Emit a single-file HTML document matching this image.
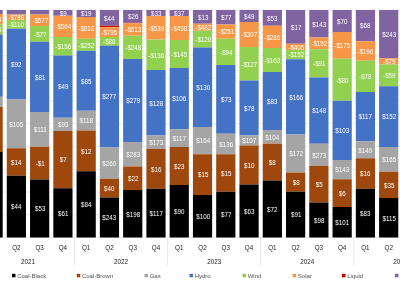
<!DOCTYPE html>
<html><head><meta charset="utf-8"><style>
html,body{margin:0;padding:0;background:#fff;}
body{width:400px;height:283px;position:relative;overflow:hidden;font-family:"Liberation Sans",sans-serif;}
svg{position:absolute;left:0;top:0;}
.ov{position:absolute;left:0;top:0;width:400px;height:283px;will-change:transform;}
.s{position:absolute;overflow:hidden;}
.t{position:absolute;left:-10px;right:-10px;text-align:center;color:#fff;font-size:6.7px;line-height:10px;height:10px;top:50%;margin-top:-4.2px;white-space:nowrap;transform:scaleX(0.93);}
.q{position:absolute;width:40px;text-align:center;color:#252423;font-size:6.3px;line-height:8px;}
.lg{position:absolute;top:271.5px;height:8px;color:#505050;font-size:6px;line-height:8px;white-space:nowrap;}
</style></head><body>

<svg width="400" height="283" viewBox="0 0 400 283">
<rect x="0" y="9.50" width="400" height="1.00" fill="#E9EDF5"/>
<rect x="0" y="32.25" width="400" height="1.00" fill="#E9EDF5"/>
<rect x="0" y="55.00" width="400" height="1.00" fill="#E9EDF5"/>
<rect x="0" y="77.75" width="400" height="1.00" fill="#E9EDF5"/>
<rect x="0" y="100.50" width="400" height="1.00" fill="#E9EDF5"/>
<rect x="0" y="123.25" width="400" height="1.00" fill="#E9EDF5"/>
<rect x="0" y="146.00" width="400" height="1.00" fill="#E9EDF5"/>
<rect x="0" y="168.75" width="400" height="1.00" fill="#E9EDF5"/>
<rect x="0" y="191.50" width="400" height="1.00" fill="#E9EDF5"/>
<rect x="0" y="214.25" width="400" height="1.00" fill="#E9EDF5"/>
<rect x="0" y="237.00" width="400" height="1.00" fill="#E9EDF5"/>
<rect x="74.05" y="237.50" width="1.00" height="28.00" fill="#E3E8F2"/>
<rect x="167.12" y="237.50" width="1.00" height="28.00" fill="#E3E8F2"/>
<rect x="260.20" y="237.50" width="1.00" height="28.00" fill="#E3E8F2"/>
<rect x="353.28" y="237.50" width="1.00" height="28.00" fill="#E3E8F2"/>
<rect x="-16.50" y="10.00" width="19.20" height="4.00" fill="#8064A2"/>
<rect x="-16.50" y="14.00" width="19.20" height="10.25" fill="#F79646"/>
<rect x="-16.50" y="24.25" width="19.20" height="10.25" fill="#92D050"/>
<rect x="-16.50" y="34.50" width="19.20" height="62.25" fill="#4472C4"/>
<rect x="-16.50" y="96.75" width="19.20" height="10.25" fill="#A5A5A5"/>
<rect x="-16.50" y="107.00" width="19.20" height="45.00" fill="#9E480E"/>
<rect x="-16.50" y="152.00" width="19.20" height="85.50" fill="#000000"/>
<rect x="6.77" y="10.00" width="19.20" height="4.50" fill="#8064A2"/>
<rect x="6.77" y="14.50" width="19.20" height="5.50" fill="#F79646"/>
<rect x="6.77" y="20.00" width="19.20" height="8.75" fill="#92D050"/>
<rect x="6.77" y="28.75" width="19.20" height="70.75" fill="#4472C4"/>
<rect x="6.77" y="99.50" width="19.20" height="48.75" fill="#A5A5A5"/>
<rect x="6.77" y="148.25" width="19.20" height="27.50" fill="#9E480E"/>
<rect x="6.77" y="175.75" width="19.20" height="61.75" fill="#000000"/>
<rect x="30.04" y="10.00" width="19.20" height="4.50" fill="#8064A2"/>
<rect x="30.04" y="14.50" width="19.20" height="11.50" fill="#F79646"/>
<rect x="30.04" y="26.00" width="19.20" height="15.75" fill="#92D050"/>
<rect x="30.04" y="41.75" width="19.20" height="70.25" fill="#4472C4"/>
<rect x="30.04" y="112.00" width="19.20" height="34.75" fill="#A5A5A5"/>
<rect x="30.04" y="146.75" width="19.20" height="32.75" fill="#9E480E"/>
<rect x="30.04" y="179.50" width="19.20" height="58.00" fill="#000000"/>
<rect x="53.31" y="10.00" width="19.20" height="5.75" fill="#8064A2"/>
<rect x="53.31" y="15.75" width="19.20" height="21.25" fill="#F79646"/>
<rect x="53.31" y="37.00" width="19.20" height="18.50" fill="#92D050"/>
<rect x="53.31" y="55.50" width="19.20" height="62.25" fill="#4472C4"/>
<rect x="53.31" y="117.75" width="19.20" height="13.25" fill="#A5A5A5"/>
<rect x="53.31" y="131.00" width="19.20" height="57.25" fill="#9E480E"/>
<rect x="53.31" y="188.25" width="19.20" height="49.25" fill="#000000"/>
<rect x="76.58" y="10.00" width="19.20" height="7.00" fill="#8064A2"/>
<rect x="76.58" y="17.00" width="19.20" height="21.75" fill="#F79646"/>
<rect x="76.58" y="38.75" width="19.20" height="12.00" fill="#92D050"/>
<rect x="76.58" y="50.75" width="19.20" height="60.00" fill="#4472C4"/>
<rect x="76.58" y="110.75" width="19.20" height="19.75" fill="#A5A5A5"/>
<rect x="76.58" y="130.50" width="19.20" height="40.75" fill="#9E480E"/>
<rect x="76.58" y="171.25" width="19.20" height="66.25" fill="#000000"/>
<rect x="99.85" y="10.00" width="19.20" height="15.75" fill="#8064A2"/>
<rect x="99.85" y="25.75" width="19.20" height="1.50" fill="#C00000"/>
<rect x="99.85" y="27.25" width="19.20" height="9.75" fill="#F79646"/>
<rect x="99.85" y="37.00" width="19.20" height="8.75" fill="#92D050"/>
<rect x="99.85" y="45.75" width="19.20" height="101.75" fill="#4472C4"/>
<rect x="99.85" y="147.50" width="19.20" height="31.25" fill="#A5A5A5"/>
<rect x="99.85" y="178.75" width="19.20" height="18.75" fill="#9E480E"/>
<rect x="99.85" y="197.50" width="19.20" height="40.00" fill="#000000"/>
<rect x="123.12" y="10.00" width="19.20" height="12.75" fill="#8064A2"/>
<rect x="123.12" y="22.75" width="19.20" height="0.50" fill="#C00000"/>
<rect x="123.12" y="23.25" width="19.20" height="12.50" fill="#F79646"/>
<rect x="123.12" y="35.75" width="19.20" height="23.25" fill="#92D050"/>
<rect x="123.12" y="59.00" width="19.20" height="83.00" fill="#4472C4"/>
<rect x="123.12" y="142.00" width="19.20" height="24.50" fill="#A5A5A5"/>
<rect x="123.12" y="166.50" width="19.20" height="23.50" fill="#9E480E"/>
<rect x="123.12" y="190.00" width="19.20" height="47.50" fill="#000000"/>
<rect x="146.39" y="10.00" width="19.20" height="6.00" fill="#8064A2"/>
<rect x="146.39" y="16.00" width="19.20" height="23.50" fill="#F79646"/>
<rect x="146.39" y="39.50" width="19.20" height="30.50" fill="#92D050"/>
<rect x="146.39" y="70.00" width="19.20" height="65.50" fill="#4472C4"/>
<rect x="146.39" y="135.50" width="19.20" height="13.25" fill="#A5A5A5"/>
<rect x="146.39" y="148.75" width="19.20" height="40.00" fill="#9E480E"/>
<rect x="146.39" y="188.75" width="19.20" height="48.75" fill="#000000"/>
<rect x="169.66" y="10.00" width="19.20" height="6.00" fill="#8064A2"/>
<rect x="169.66" y="16.00" width="19.20" height="24.00" fill="#F79646"/>
<rect x="169.66" y="40.00" width="19.20" height="28.00" fill="#92D050"/>
<rect x="169.66" y="68.00" width="19.20" height="61.25" fill="#4472C4"/>
<rect x="169.66" y="129.25" width="19.20" height="17.75" fill="#A5A5A5"/>
<rect x="169.66" y="147.00" width="19.20" height="38.00" fill="#9E480E"/>
<rect x="169.66" y="185.00" width="19.20" height="52.50" fill="#000000"/>
<rect x="192.93" y="10.00" width="19.20" height="13.75" fill="#8064A2"/>
<rect x="192.93" y="23.75" width="19.20" height="7.00" fill="#F79646"/>
<rect x="192.93" y="30.75" width="19.20" height="16.75" fill="#92D050"/>
<rect x="192.93" y="47.50" width="19.20" height="79.50" fill="#4472C4"/>
<rect x="192.93" y="127.00" width="19.20" height="27.25" fill="#A5A5A5"/>
<rect x="192.93" y="154.25" width="19.20" height="40.75" fill="#9E480E"/>
<rect x="192.93" y="195.00" width="19.20" height="42.50" fill="#000000"/>
<rect x="216.20" y="10.00" width="19.20" height="14.50" fill="#8064A2"/>
<rect x="216.20" y="24.50" width="19.20" height="14.25" fill="#F79646"/>
<rect x="216.20" y="38.75" width="19.20" height="26.25" fill="#92D050"/>
<rect x="216.20" y="65.00" width="19.20" height="68.75" fill="#4472C4"/>
<rect x="216.20" y="133.75" width="19.20" height="20.50" fill="#A5A5A5"/>
<rect x="216.20" y="154.25" width="19.20" height="37.50" fill="#9E480E"/>
<rect x="216.20" y="191.75" width="19.20" height="45.75" fill="#000000"/>
<rect x="239.47" y="10.00" width="19.20" height="12.00" fill="#8064A2"/>
<rect x="239.47" y="22.00" width="19.20" height="25.00" fill="#F79646"/>
<rect x="239.47" y="47.00" width="19.20" height="33.50" fill="#92D050"/>
<rect x="239.47" y="80.50" width="19.20" height="55.00" fill="#4472C4"/>
<rect x="239.47" y="135.50" width="19.20" height="10.00" fill="#A5A5A5"/>
<rect x="239.47" y="145.50" width="19.20" height="39.00" fill="#9E480E"/>
<rect x="239.47" y="184.50" width="19.20" height="53.00" fill="#000000"/>
<rect x="262.74" y="10.00" width="19.20" height="15.75" fill="#8064A2"/>
<rect x="262.74" y="25.75" width="19.20" height="22.25" fill="#F79646"/>
<rect x="262.74" y="48.00" width="19.20" height="24.00" fill="#92D050"/>
<rect x="262.74" y="72.00" width="19.20" height="58.00" fill="#4472C4"/>
<rect x="262.74" y="130.00" width="19.20" height="13.75" fill="#A5A5A5"/>
<rect x="262.74" y="143.75" width="19.20" height="36.75" fill="#9E480E"/>
<rect x="262.74" y="180.50" width="19.20" height="57.00" fill="#000000"/>
<rect x="286.01" y="10.00" width="19.20" height="33.75" fill="#8064A2"/>
<rect x="286.01" y="43.75" width="19.20" height="6.25" fill="#F79646"/>
<rect x="286.01" y="50.00" width="19.20" height="9.25" fill="#92D050"/>
<rect x="286.01" y="59.25" width="19.20" height="75.25" fill="#4472C4"/>
<rect x="286.01" y="134.50" width="19.20" height="38.00" fill="#A5A5A5"/>
<rect x="286.01" y="172.50" width="19.20" height="19.25" fill="#9E480E"/>
<rect x="286.01" y="191.75" width="19.20" height="45.75" fill="#000000"/>
<rect x="309.28" y="10.00" width="19.20" height="27.50" fill="#8064A2"/>
<rect x="309.28" y="37.50" width="19.20" height="11.75" fill="#F79646"/>
<rect x="309.28" y="49.25" width="19.20" height="28.25" fill="#92D050"/>
<rect x="309.28" y="77.50" width="19.20" height="66.25" fill="#4472C4"/>
<rect x="309.28" y="143.75" width="19.20" height="22.00" fill="#A5A5A5"/>
<rect x="309.28" y="165.75" width="19.20" height="36.75" fill="#9E480E"/>
<rect x="309.28" y="202.50" width="19.20" height="35.00" fill="#000000"/>
<rect x="332.55" y="10.00" width="19.20" height="22.00" fill="#8064A2"/>
<rect x="332.55" y="32.00" width="19.20" height="26.75" fill="#F79646"/>
<rect x="332.55" y="58.75" width="19.20" height="42.00" fill="#92D050"/>
<rect x="332.55" y="100.75" width="19.20" height="59.25" fill="#4472C4"/>
<rect x="332.55" y="160.00" width="19.20" height="19.25" fill="#A5A5A5"/>
<rect x="332.55" y="179.25" width="19.20" height="27.75" fill="#9E480E"/>
<rect x="332.55" y="207.00" width="19.20" height="30.50" fill="#000000"/>
<rect x="355.82" y="10.00" width="19.20" height="31.25" fill="#8064A2"/>
<rect x="355.82" y="41.25" width="19.20" height="19.50" fill="#F79646"/>
<rect x="355.82" y="60.75" width="19.20" height="31.25" fill="#92D050"/>
<rect x="355.82" y="92.00" width="19.20" height="49.25" fill="#4472C4"/>
<rect x="355.82" y="141.25" width="19.20" height="17.00" fill="#A5A5A5"/>
<rect x="355.82" y="158.25" width="19.20" height="30.50" fill="#9E480E"/>
<rect x="355.82" y="188.75" width="19.20" height="48.75" fill="#000000"/>
<rect x="379.09" y="10.00" width="19.20" height="48.25" fill="#8064A2"/>
<rect x="379.09" y="58.25" width="19.20" height="6.25" fill="#F79646"/>
<rect x="379.09" y="64.50" width="19.20" height="21.75" fill="#92D050"/>
<rect x="379.09" y="86.25" width="19.20" height="60.75" fill="#4472C4"/>
<rect x="379.09" y="147.00" width="19.20" height="24.75" fill="#A5A5A5"/>
<rect x="379.09" y="171.75" width="19.20" height="26.25" fill="#9E480E"/>
<rect x="379.09" y="198.00" width="19.20" height="39.50" fill="#000000"/>
<rect x="12.00" y="273.80" width="3.50" height="3.50" fill="#000000"/>
<rect x="76.75" y="273.80" width="3.50" height="3.50" fill="#9E480E"/>
<rect x="144.50" y="273.80" width="3.50" height="3.50" fill="#A5A5A5"/>
<rect x="189.50" y="273.80" width="3.50" height="3.50" fill="#4472C4"/>
<rect x="242.50" y="273.80" width="3.50" height="3.50" fill="#92D050"/>
<rect x="292.60" y="273.80" width="3.50" height="3.50" fill="#F79646"/>
<rect x="342.00" y="273.80" width="3.50" height="3.50" fill="#C00000"/>
<rect x="395.00" y="273.80" width="3.50" height="3.50" fill="#8064A2"/>
</svg>
<div class="ov">
<div class="s" style="left:-16.50px;top:14.00px;width:19.20px;height:10.25px"><div class="t" style="margin-left:0.60px">-$474</div></div>
<div class="s" style="left:-16.50px;top:24.25px;width:19.20px;height:10.25px"><div class="t" style="margin-left:0.60px">-$124</div></div>
<div class="s" style="left:-16.50px;top:34.50px;width:19.20px;height:62.25px"><div class="t" style="margin-left:0.60px">$72</div></div>
<div class="s" style="left:-16.50px;top:96.75px;width:19.20px;height:10.25px"><div class="t" style="margin-left:0.60px">$43</div></div>
<div class="s" style="left:-16.50px;top:107.00px;width:19.20px;height:45.00px"><div class="t" style="margin-left:0.60px">$14</div></div>
<div class="s" style="left:-16.50px;top:152.00px;width:19.20px;height:85.50px"><div class="t" style="margin-left:0.60px">$34</div></div>
<div class="s" style="left:6.77px;top:14.50px;width:19.20px;height:5.50px"><div class="t" style="margin-left:0.60px">-$788</div></div>
<div class="s" style="left:6.77px;top:20.00px;width:19.20px;height:8.75px"><div class="t" style="margin-left:0.60px">-$110</div></div>
<div class="s" style="left:6.77px;top:28.75px;width:19.20px;height:70.75px"><div class="t" style="margin-left:0.60px">$92</div></div>
<div class="s" style="left:6.77px;top:99.50px;width:19.20px;height:48.75px"><div class="t" style="margin-left:0.60px">$105</div></div>
<div class="s" style="left:6.77px;top:148.25px;width:19.20px;height:27.50px"><div class="t" style="margin-left:0.60px">$14</div></div>
<div class="s" style="left:6.77px;top:175.75px;width:19.20px;height:61.75px"><div class="t" style="margin-left:0.60px">$44</div></div>
<div class="s" style="left:30.04px;top:14.50px;width:19.20px;height:11.50px"><div class="t" style="margin-left:0.60px">-$577</div></div>
<div class="s" style="left:30.04px;top:26.00px;width:19.20px;height:15.75px"><div class="t" style="margin-left:0.60px">-$77</div></div>
<div class="s" style="left:30.04px;top:41.75px;width:19.20px;height:70.25px"><div class="t" style="margin-left:0.60px">$81</div></div>
<div class="s" style="left:30.04px;top:112.00px;width:19.20px;height:34.75px"><div class="t" style="margin-left:0.60px">$111</div></div>
<div class="s" style="left:30.04px;top:146.75px;width:19.20px;height:32.75px"><div class="t" style="margin-left:0.60px">-$1</div></div>
<div class="s" style="left:30.04px;top:179.50px;width:19.20px;height:58.00px"><div class="t" style="margin-left:0.60px">$53</div></div>
<div class="s" style="left:53.31px;top:10.00px;width:19.20px;height:5.75px"><div class="t" style="margin-left:0.60px">$9</div></div>
<div class="s" style="left:53.31px;top:15.75px;width:19.20px;height:21.25px"><div class="t" style="margin-left:0.60px">-$564</div></div>
<div class="s" style="left:53.31px;top:37.00px;width:19.20px;height:18.50px"><div class="t" style="margin-left:0.60px">-$156</div></div>
<div class="s" style="left:53.31px;top:55.50px;width:19.20px;height:62.25px"><div class="t" style="margin-left:0.60px">$49</div></div>
<div class="s" style="left:53.31px;top:117.75px;width:19.20px;height:13.25px"><div class="t" style="margin-left:0.60px">$93</div></div>
<div class="s" style="left:53.31px;top:131.00px;width:19.20px;height:57.25px"><div class="t" style="margin-left:0.60px">$7</div></div>
<div class="s" style="left:53.31px;top:188.25px;width:19.20px;height:49.25px"><div class="t" style="margin-left:0.60px">$61</div></div>
<div class="s" style="left:76.58px;top:10.00px;width:19.20px;height:7.00px"><div class="t" style="margin-left:0.60px">$19</div></div>
<div class="s" style="left:76.58px;top:17.00px;width:19.20px;height:21.75px"><div class="t" style="margin-left:0.60px">-$818</div></div>
<div class="s" style="left:76.58px;top:38.75px;width:19.20px;height:12.00px"><div class="t" style="margin-left:0.60px">-$252</div></div>
<div class="s" style="left:76.58px;top:50.75px;width:19.20px;height:60.00px"><div class="t" style="margin-left:0.60px">$85</div></div>
<div class="s" style="left:76.58px;top:110.75px;width:19.20px;height:19.75px"><div class="t" style="margin-left:0.60px">$118</div></div>
<div class="s" style="left:76.58px;top:130.50px;width:19.20px;height:40.75px"><div class="t" style="margin-left:0.60px">$12</div></div>
<div class="s" style="left:76.58px;top:171.25px;width:19.20px;height:66.25px"><div class="t" style="margin-left:0.60px">$84</div></div>
<div class="s" style="left:99.85px;top:10.00px;width:19.20px;height:15.75px"><div class="t" style="margin-left:0.60px">$44</div></div>
<div class="s" style="left:99.85px;top:27.25px;width:19.20px;height:9.75px"><div class="t" style="margin-left:0.60px">-$795</div></div>
<div class="s" style="left:99.85px;top:37.00px;width:19.20px;height:8.75px"><div class="t" style="margin-left:0.60px">-$88</div></div>
<div class="s" style="left:99.85px;top:45.75px;width:19.20px;height:101.75px"><div class="t" style="margin-left:0.60px">$277</div></div>
<div class="s" style="left:99.85px;top:147.50px;width:19.20px;height:31.25px"><div class="t" style="margin-left:0.60px">$260</div></div>
<div class="s" style="left:99.85px;top:178.75px;width:19.20px;height:18.75px"><div class="t" style="margin-left:0.60px">$40</div></div>
<div class="s" style="left:99.85px;top:197.50px;width:19.20px;height:40.00px"><div class="t" style="margin-left:0.60px">$243</div></div>
<div class="s" style="left:123.12px;top:10.00px;width:19.20px;height:12.75px"><div class="t" style="margin-left:0.60px">$26</div></div>
<div class="s" style="left:123.12px;top:23.25px;width:19.20px;height:12.50px"><div class="t" style="margin-left:0.60px">-$613</div></div>
<div class="s" style="left:123.12px;top:35.75px;width:19.20px;height:23.25px"><div class="t" style="margin-left:0.60px">-$248</div></div>
<div class="s" style="left:123.12px;top:59.00px;width:19.20px;height:83.00px"><div class="t" style="margin-left:0.60px">$279</div></div>
<div class="s" style="left:123.12px;top:142.00px;width:19.20px;height:24.50px"><div class="t" style="margin-left:0.60px">$283</div></div>
<div class="s" style="left:123.12px;top:166.50px;width:19.20px;height:23.50px"><div class="t" style="margin-left:0.60px">$22</div></div>
<div class="s" style="left:123.12px;top:190.00px;width:19.20px;height:47.50px"><div class="t" style="margin-left:0.60px">$198</div></div>
<div class="s" style="left:146.39px;top:10.00px;width:19.20px;height:6.00px"><div class="t" style="margin-left:0.60px">$33</div></div>
<div class="s" style="left:146.39px;top:16.00px;width:19.20px;height:23.50px"><div class="t" style="margin-left:0.60px">-$539</div></div>
<div class="s" style="left:146.39px;top:39.50px;width:19.20px;height:30.50px"><div class="t" style="margin-left:0.60px">-$136</div></div>
<div class="s" style="left:146.39px;top:70.00px;width:19.20px;height:65.50px"><div class="t" style="margin-left:0.60px">$128</div></div>
<div class="s" style="left:146.39px;top:135.50px;width:19.20px;height:13.25px"><div class="t" style="margin-left:0.60px">$173</div></div>
<div class="s" style="left:146.39px;top:148.75px;width:19.20px;height:40.00px"><div class="t" style="margin-left:0.60px">$16</div></div>
<div class="s" style="left:146.39px;top:188.75px;width:19.20px;height:48.75px"><div class="t" style="margin-left:0.60px">$117</div></div>
<div class="s" style="left:169.66px;top:10.00px;width:19.20px;height:6.00px"><div class="t" style="margin-left:0.60px">$37</div></div>
<div class="s" style="left:169.66px;top:16.00px;width:19.20px;height:24.00px"><div class="t" style="margin-left:0.60px">-$498</div></div>
<div class="s" style="left:169.66px;top:40.00px;width:19.20px;height:28.00px"><div class="t" style="margin-left:0.60px">-$145</div></div>
<div class="s" style="left:169.66px;top:68.00px;width:19.20px;height:61.25px"><div class="t" style="margin-left:0.60px">$106</div></div>
<div class="s" style="left:169.66px;top:129.25px;width:19.20px;height:17.75px"><div class="t" style="margin-left:0.60px">$117</div></div>
<div class="s" style="left:169.66px;top:147.00px;width:19.20px;height:38.00px"><div class="t" style="margin-left:0.60px">$23</div></div>
<div class="s" style="left:169.66px;top:185.00px;width:19.20px;height:52.50px"><div class="t" style="margin-left:0.60px">$90</div></div>
<div class="s" style="left:192.93px;top:10.00px;width:19.20px;height:13.75px"><div class="t" style="margin-left:0.60px">$13</div></div>
<div class="s" style="left:192.93px;top:23.75px;width:19.20px;height:7.00px"><div class="t" style="margin-left:0.60px">-$482</div></div>
<div class="s" style="left:192.93px;top:30.75px;width:19.20px;height:16.75px"><div class="t" style="margin-left:0.60px">-$120</div></div>
<div class="s" style="left:192.93px;top:47.50px;width:19.20px;height:79.50px"><div class="t" style="margin-left:0.60px">$130</div></div>
<div class="s" style="left:192.93px;top:127.00px;width:19.20px;height:27.25px"><div class="t" style="margin-left:0.60px">$164</div></div>
<div class="s" style="left:192.93px;top:154.25px;width:19.20px;height:40.75px"><div class="t" style="margin-left:0.60px">$15</div></div>
<div class="s" style="left:192.93px;top:195.00px;width:19.20px;height:42.50px"><div class="t" style="margin-left:0.60px">$100</div></div>
<div class="s" style="left:216.20px;top:10.00px;width:19.20px;height:14.50px"><div class="t" style="margin-left:0.60px">$77</div></div>
<div class="s" style="left:216.20px;top:24.50px;width:19.20px;height:14.25px"><div class="t" style="margin-left:0.60px">-$251</div></div>
<div class="s" style="left:216.20px;top:38.75px;width:19.20px;height:26.25px"><div class="t" style="margin-left:0.60px">-$94</div></div>
<div class="s" style="left:216.20px;top:65.00px;width:19.20px;height:68.75px"><div class="t" style="margin-left:0.60px">$73</div></div>
<div class="s" style="left:216.20px;top:133.75px;width:19.20px;height:20.50px"><div class="t" style="margin-left:0.60px">$136</div></div>
<div class="s" style="left:216.20px;top:154.25px;width:19.20px;height:37.50px"><div class="t" style="margin-left:0.60px">$15</div></div>
<div class="s" style="left:216.20px;top:191.75px;width:19.20px;height:45.75px"><div class="t" style="margin-left:0.60px">$77</div></div>
<div class="s" style="left:239.47px;top:10.00px;width:19.20px;height:12.00px"><div class="t" style="margin-left:0.60px">$49</div></div>
<div class="s" style="left:239.47px;top:22.00px;width:19.20px;height:25.00px"><div class="t" style="margin-left:0.60px">-$307</div></div>
<div class="s" style="left:239.47px;top:47.00px;width:19.20px;height:33.50px"><div class="t" style="margin-left:0.60px">-$127</div></div>
<div class="s" style="left:239.47px;top:80.50px;width:19.20px;height:55.00px"><div class="t" style="margin-left:0.60px">$78</div></div>
<div class="s" style="left:239.47px;top:135.50px;width:19.20px;height:10.00px"><div class="t" style="margin-left:0.60px">$107</div></div>
<div class="s" style="left:239.47px;top:145.50px;width:19.20px;height:39.00px"><div class="t" style="margin-left:0.60px">$10</div></div>
<div class="s" style="left:239.47px;top:184.50px;width:19.20px;height:53.00px"><div class="t" style="margin-left:0.60px">$63</div></div>
<div class="s" style="left:262.74px;top:10.00px;width:19.20px;height:15.75px"><div class="t" style="margin-left:0.60px">$53</div></div>
<div class="s" style="left:262.74px;top:25.75px;width:19.20px;height:22.25px"><div class="t" style="margin-left:0.60px">-$286</div></div>
<div class="s" style="left:262.74px;top:48.00px;width:19.20px;height:24.00px"><div class="t" style="margin-left:0.60px">-$163</div></div>
<div class="s" style="left:262.74px;top:72.00px;width:19.20px;height:58.00px"><div class="t" style="margin-left:0.60px">$83</div></div>
<div class="s" style="left:262.74px;top:130.00px;width:19.20px;height:13.75px"><div class="t" style="margin-left:0.60px">$104</div></div>
<div class="s" style="left:262.74px;top:143.75px;width:19.20px;height:36.75px"><div class="t" style="margin-left:0.60px">$8</div></div>
<div class="s" style="left:262.74px;top:180.50px;width:19.20px;height:57.00px"><div class="t" style="margin-left:0.60px">$72</div></div>
<div class="s" style="left:286.01px;top:10.00px;width:19.20px;height:33.75px"><div class="t" style="margin-left:0.60px">$17</div></div>
<div class="s" style="left:286.01px;top:43.75px;width:19.20px;height:6.25px"><div class="t" style="margin-left:0.60px">-$405</div></div>
<div class="s" style="left:286.01px;top:50.00px;width:19.20px;height:9.25px"><div class="t" style="margin-left:0.60px">-$152</div></div>
<div class="s" style="left:286.01px;top:59.25px;width:19.20px;height:75.25px"><div class="t" style="margin-left:0.60px">$166</div></div>
<div class="s" style="left:286.01px;top:134.50px;width:19.20px;height:38.00px"><div class="t" style="margin-left:0.60px">$172</div></div>
<div class="s" style="left:286.01px;top:172.50px;width:19.20px;height:19.25px"><div class="t" style="margin-left:0.60px">$8</div></div>
<div class="s" style="left:286.01px;top:191.75px;width:19.20px;height:45.75px"><div class="t" style="margin-left:0.60px">$91</div></div>
<div class="s" style="left:309.28px;top:10.00px;width:19.20px;height:27.50px"><div class="t" style="margin-left:0.60px">$143</div></div>
<div class="s" style="left:309.28px;top:37.50px;width:19.20px;height:11.75px"><div class="t" style="margin-left:0.60px">-$152</div></div>
<div class="s" style="left:309.28px;top:49.25px;width:19.20px;height:28.25px"><div class="t" style="margin-left:0.60px">-$91</div></div>
<div class="s" style="left:309.28px;top:77.50px;width:19.20px;height:66.25px"><div class="t" style="margin-left:0.60px">$148</div></div>
<div class="s" style="left:309.28px;top:143.75px;width:19.20px;height:22.00px"><div class="t" style="margin-left:0.60px">$273</div></div>
<div class="s" style="left:309.28px;top:165.75px;width:19.20px;height:36.75px"><div class="t" style="margin-left:0.60px">$5</div></div>
<div class="s" style="left:309.28px;top:202.50px;width:19.20px;height:35.00px"><div class="t" style="margin-left:0.60px">$98</div></div>
<div class="s" style="left:332.55px;top:10.00px;width:19.20px;height:22.00px"><div class="t" style="margin-left:0.60px">$70</div></div>
<div class="s" style="left:332.55px;top:32.00px;width:19.20px;height:26.75px"><div class="t" style="margin-left:0.60px">-$175</div></div>
<div class="s" style="left:332.55px;top:58.75px;width:19.20px;height:42.00px"><div class="t" style="margin-left:0.60px">-$80</div></div>
<div class="s" style="left:332.55px;top:100.75px;width:19.20px;height:59.25px"><div class="t" style="margin-left:0.60px">$103</div></div>
<div class="s" style="left:332.55px;top:160.00px;width:19.20px;height:19.25px"><div class="t" style="margin-left:0.60px">$143</div></div>
<div class="s" style="left:332.55px;top:179.25px;width:19.20px;height:27.75px"><div class="t" style="margin-left:0.60px">$6</div></div>
<div class="s" style="left:332.55px;top:207.00px;width:19.20px;height:30.50px"><div class="t" style="margin-left:0.60px">$101</div></div>
<div class="s" style="left:355.82px;top:10.00px;width:19.20px;height:31.25px"><div class="t" style="margin-left:0.60px">$68</div></div>
<div class="s" style="left:355.82px;top:41.25px;width:19.20px;height:19.50px"><div class="t" style="margin-left:0.60px">-$196</div></div>
<div class="s" style="left:355.82px;top:60.75px;width:19.20px;height:31.25px"><div class="t" style="margin-left:0.60px">-$78</div></div>
<div class="s" style="left:355.82px;top:92.00px;width:19.20px;height:49.25px"><div class="t" style="margin-left:0.60px">$117</div></div>
<div class="s" style="left:355.82px;top:141.25px;width:19.20px;height:17.00px"><div class="t" style="margin-left:0.60px">$149</div></div>
<div class="s" style="left:355.82px;top:158.25px;width:19.20px;height:30.50px"><div class="t" style="margin-left:0.60px">$16</div></div>
<div class="s" style="left:355.82px;top:188.75px;width:19.20px;height:48.75px"><div class="t" style="margin-left:0.60px">$83</div></div>
<div class="s" style="left:379.09px;top:10.00px;width:19.20px;height:48.25px"><div class="t" style="margin-left:0.60px">$243</div></div>
<div class="s" style="left:379.09px;top:58.25px;width:19.20px;height:6.25px"><div class="t" style="margin-left:0.60px">-$79</div></div>
<div class="s" style="left:379.09px;top:64.50px;width:19.20px;height:21.75px"><div class="t" style="margin-left:0.60px">-$59</div></div>
<div class="s" style="left:379.09px;top:86.25px;width:19.20px;height:60.75px"><div class="t" style="margin-left:0.60px">$152</div></div>
<div class="s" style="left:379.09px;top:147.00px;width:19.20px;height:24.75px"><div class="t" style="margin-left:0.60px">$165</div></div>
<div class="s" style="left:379.09px;top:171.75px;width:19.20px;height:26.25px"><div class="t" style="margin-left:0.60px">$35</div></div>
<div class="s" style="left:379.09px;top:198.00px;width:19.20px;height:39.50px"><div class="t" style="margin-left:0.60px">$115</div></div>
<div class="lg" style="left:17.20px">Coal-Black</div>
<div class="lg" style="left:81.95px">Coal-Brown</div>
<div class="lg" style="left:149.70px">Gas</div>
<div class="lg" style="left:194.70px">Hydro</div>
<div class="lg" style="left:247.70px">Wind</div>
<div class="lg" style="left:297.80px">Solar</div>
<div class="lg" style="left:347.20px">Liquid</div>
<div class="lg" style="left:400.20px">Other</div>
<div class="q" style="left:-26.90px;top:243.8px">Q1</div>
<div class="q" style="left:-3.63px;top:243.8px">Q2</div>
<div class="q" style="left:19.64px;top:243.8px">Q3</div>
<div class="q" style="left:42.91px;top:243.8px">Q4</div>
<div class="q" style="left:66.18px;top:243.8px">Q1</div>
<div class="q" style="left:89.45px;top:243.8px">Q2</div>
<div class="q" style="left:112.72px;top:243.8px">Q3</div>
<div class="q" style="left:135.99px;top:243.8px">Q4</div>
<div class="q" style="left:159.26px;top:243.8px">Q1</div>
<div class="q" style="left:182.53px;top:243.8px">Q2</div>
<div class="q" style="left:205.80px;top:243.8px">Q3</div>
<div class="q" style="left:229.07px;top:243.8px">Q4</div>
<div class="q" style="left:252.34px;top:243.8px">Q1</div>
<div class="q" style="left:275.61px;top:243.8px">Q2</div>
<div class="q" style="left:298.88px;top:243.8px">Q3</div>
<div class="q" style="left:322.15px;top:243.8px">Q4</div>
<div class="q" style="left:345.42px;top:243.8px">Q1</div>
<div class="q" style="left:368.69px;top:243.8px">Q2</div>
<div class="q" style="left:8.01px;top:258.2px">2021</div>
<div class="q" style="left:101.08px;top:258.2px">2022</div>
<div class="q" style="left:194.16px;top:258.2px">2023</div>
<div class="q" style="left:287.25px;top:258.2px">2024</div>
<div class="q" style="left:380.33px;top:258.2px">2025</div>
</div>
</body></html>
